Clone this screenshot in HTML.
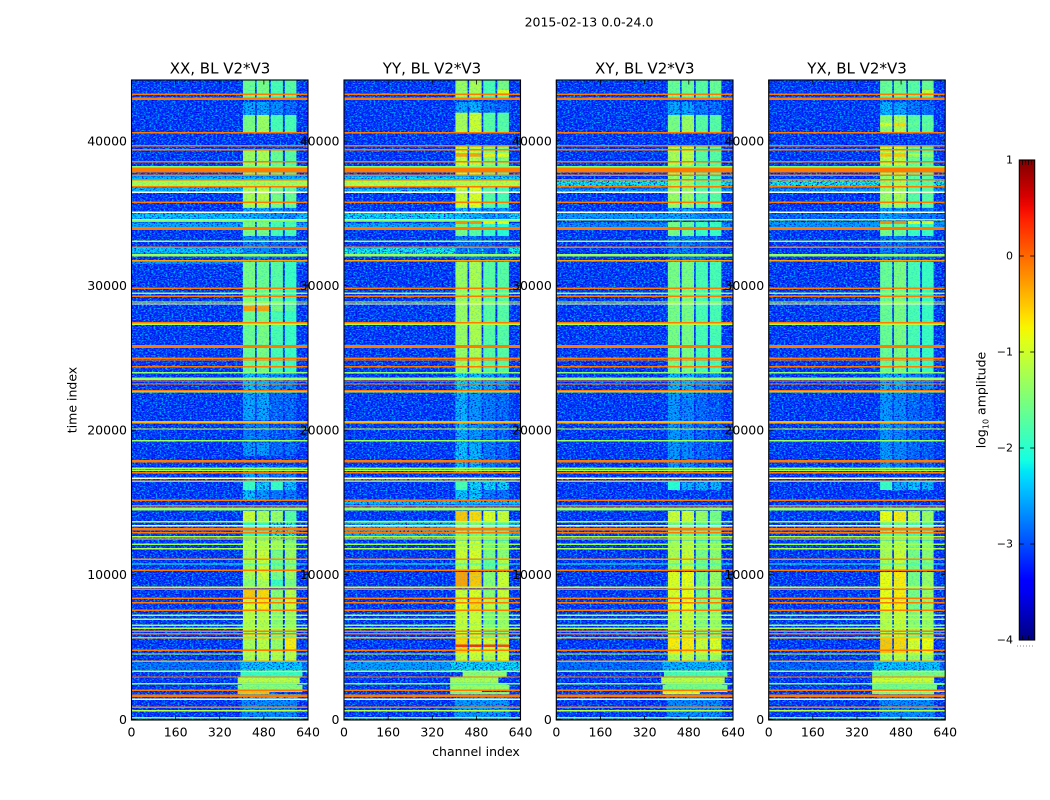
<!DOCTYPE html>
<html>
<head>
<meta charset="utf-8">
<title>2015-02-13 visibility waterfall</title>
<style>
html,body{margin:0;padding:0;background:#fff;}
svg{display:block;font-family:"DejaVu Sans","Liberation Sans",sans-serif;}
</style>
</head>
<body>
<svg id="figure" xmlns="http://www.w3.org/2000/svg" width="1050" height="800" viewBox="0 0 1050 800">
  <defs>
    <filter id="noiseLight" x="0" y="0" width="100%" height="100%" color-interpolation-filters="sRGB">
      <feTurbulence type="fractalNoise" baseFrequency="0.5 0.72" numOctaves="2" seed="4"/>
      <feColorMatrix type="matrix" values="0 0 0 0 0  0 0 0 0 0.68  0 0 0 0 1  4.4 0 0 0 -2.05"/>
    </filter>
    <filter id="noiseDark" x="0" y="0" width="100%" height="100%" color-interpolation-filters="sRGB">
      <feTurbulence type="fractalNoise" baseFrequency="0.52 0.74" numOctaves="2" seed="11"/>
      <feColorMatrix type="matrix" values="0 0 0 0 0  0 0 0 0 0  0 0 0 0 0.82  0 4 0 0 -2.0"/>
    </filter>
    <linearGradient id="jetGradient" x1="0" y1="1" x2="0" y2="0"></linearGradient>
  </defs>
  <rect x="0" y="0" width="1050" height="800" fill="#fff"/>
  <text x="589" y="26.5" font-size="12.5" text-anchor="middle" fill="#000">2015-02-13 0.0-24.0</text>

  <g id="panel-0"></g>
  <g id="panel-1"></g>
  <g id="panel-2"></g>
  <g id="panel-3"></g>

  <text x="220" y="73.5" font-size="15" text-anchor="middle" fill="#000">XX, BL V2*V3</text>
  <text x="432" y="73.5" font-size="15" text-anchor="middle" fill="#000">YY, BL V2*V3</text>
  <text x="644.8" y="73.5" font-size="15" text-anchor="middle" fill="#000">XY, BL V2*V3</text>
  <text x="857" y="73.5" font-size="15" text-anchor="middle" fill="#000">YX, BL V2*V3</text>

  <text x="476" y="756" font-size="12.5" text-anchor="middle" fill="#000">channel index</text>
  <text x="0" y="0" font-size="12.5" text-anchor="middle" fill="#000" transform="translate(76.5,400) rotate(-90)">time index</text>

  <g id="colorbar"></g>
  <text x="0" y="0" font-size="12.5" text-anchor="middle" fill="#000" transform="translate(985.5,400) rotate(-90)">log<tspan dy="3" font-size="8">10</tspan><tspan dy="-3"> amplitude</tspan></text>
</svg>

<script>
// ---------- chart data (time index, channel index, log10 amplitude) ----------
const channelTicks = [0, 160, 320, 480, 640];
const timeTicks = [0, 10000, 20000, 30000, 40000];
const colorTicks = [1, 0, -1, -2, -3, -4];
const backgroundLevel = -3.2;
const subbandEdges = [[404, 448], [454, 499], [505, 549], [556, 598]];

// narrow rows present in every polarisation: [time, duration, log amplitude]; null = blanked row
const rfiRows = [
 [43170,70,-.1],[42845,170,-.1],[40514,70,-.1],[39615,90,-.1],[39338,80,-.1],[38508,120,-.1],[38163,70,-1.5],
 [37934,330,-.1],[37568,90,-.1],[37263,70,-.1],[36780,100,-.1],[36392,70,null],[35700,80,-.1],[35009,70,null],
 [34497,110,-1.2],[33875,200,-.1],[33003,70,-1.2],[32588,60,-.1],[32035,190,-1.3],[31661,110,-.3],[29753,60,-.1],
 [29407,70,-1.3],[29199,70,-.1],[28805,60,-1.0],[28667,60,null],[27374,80,-.1],[27263,60,-1.2],[25783,60,-.1],
 [25672,60,-.1],[24911,80,-.1],[24794,70,-.1],[24330,110,-.1],[23916,90,-1.4],[23500,180,-1.35],[23342,70,-.1],
 [23134,80,-.1],[22671,70,-.1],[22581,60,-1.1],[20527,60,-.4],[20437,60,-.4],[20022,60,-1.0],[19213,120,-1.3],
 [17829,80,-.1],[17740,70,-.1],[17304,70,-1.3],[17166,70,-1.3],[17000,70,-.1],[16612,70,null],[16405,50,-.4],
 [15091,80,-.1],[14717,70,-.1],[14489,230,-1.35],[13611,70,-1.1],[13334,70,null],[13085,200,-.1],[12850,60,-.1],
 [12573,70,-1.2],[12414,60,-.6],[12048,70,-1.3],[11743,60,-1.2],[11010,60,-.2],[10685,60,-2.0],[10250,90,-.1],
 [9074,60,-1.1],[8935,70,-.1],[8313,70,-.1],[8009,130,-.1],[7483,70,-.1],[7137,60,-1.2],[6861,70,-1.1],
 [6446,60,-1.3],[6238,70,-1.2],[6031,90,-.1],[5865,90,-.1],[5588,90,-.5],[4717,70,-.1],[4461,70,-1.1],
 [3956,50,-.3],[3264,60,-1.2],[2870,90,-.1],[2407,120,-1.35],[1950,70,-.1],[1577,160,-.1],[1328,60,null],
 [775,70,-.1],[539,70,-1.1],[55,50,-1.3]
];

// full-width elevated bands: [start, end, log amplitude]
const bandsXX = [[37500,37300,-2.4],[37250,36780,-1.25],[36700,36400,-2.4],[34950,34550,-2.3],[34450,34340,-1.5],[34300,33980,-2.5],[32550,32150,-2.3],[31600,31440,-2.6],[3950,3250,-2.85]];
const bandsYY = [[37500,37300,-2.2],[37250,36780,-1.15],[36650,36400,-2.3],[34950,34550,-2.2],[34450,34350,-1.5],[34250,33950,-2.5],[32550,32100,-2.1],[16650,16400,-2.5],[15100,14800,-2.3],[13700,12400,-2.45],[3950,3250,-2.55]];
const bandsXY = [[37250,36780,-2.15],[36650,36400,-2.6],[34950,34550,-2.6],[34300,33980,-2.7],[3950,3250,-2.9]];
const bandsYX = [[37250,36780,-2.1],[36650,36400,-2.6],[34900,34550,-2.9],[34350,33950,-2.6],[3950,3250,-2.95]];

// subband blocks: [start, end, level subband 1, 2, 3, 4]
const blocksXX = [
 [44150,42910,-1.6,-1.5,-1.8,-1.7],[42640,41740,-2.5,-2.5,-2.7,-2.9],[41740,40520,-1.5,-1.3,-1.8,-1.8],
 [39390,38140,-1.3,-1.2,-1.6,-1.7],[38140,37520,-1.5,-1.5,-1.8,-1.9],[36760,35310,-1.2,-1.1,-1.5,-1.6],
 [35310,34480,-2.4,-2.5,-2.6,-2.7],[34340,33370,-1.5,-1.5,-1.8,-1.8],[33370,31570,-2.7,-2.7,-2.9,-2.9],
 [31570,28800,-1.5,-1.6,-1.7,-1.9],[28800,28530,-1.5,-1.5,-1.7,-1.9],[28530,28180,-.3,-.3,-1.5,-1.7],
 [28180,23960,-1.6,-1.5,-1.8,-1.9],[23960,22720,-2.3,-2.4,-2.6,-2.7],[22720,20640,-2.5,-2.5,-2.9,-2.9],
 [20640,19050,-2.8,-2.8,-3,-3],[19050,18150,-2.6,-2.6,-2.9,-2.9],[17530,16360,-2.5,-2.6,-2.8,-2.8],
 [16360,15800,-1.9,-2.2,-1.9,-2.3],[15800,15110,-2.3,-2.6,-2.8,-2.8],[14350,13590,-1.0,-1.2,-1.3,-1.7],
 [13590,12340,-2,-2,-2.1,-2.1],[12340,11650,-1.1,-1.1,-1.2,-1.4],[11650,9580,-1.2,-1.0,-1.5,-1.3],
 [9580,9030,-1.4,-1.2,-1.9,-1.5],[8890,8330,-.5,-.6,-1.4,-1.1],[8330,7500,-.9,-.7,-1.3,-1.0],
 [7500,5640,-1.1,-1.1,-1.4,-1.3],[5640,4800,-1.2,-1.1,-1.3,-.7],[4800,3980,-1.2,-1.1,-1.2,-1.1]
];
const blocksYY = [
 [44150,42910,-1.3,-1.2,-1.8,-1.5],[43450,43250,-1.3,-1.2,-1.8,-.8],[42640,41900,-2.5,-2.4,-2.8,-2.9],
 [41900,40520,-1.2,-1,-1.7,-1.7],[39590,38140,-1.0,-1.1,-1.4,-1.4],[39100,38850,-.3,-.3,-.7,-.8],
 [38140,37520,-1.2,-1.2,-1.6,-1.7],[36760,35310,-1,-.9,-1.7,-1.8],[35310,34480,-2.3,-2.4,-2.6,-2.6],
 [34340,33370,-1.5,-1.7,-1.9,-2],[34400,34200,-.2,-.2,-.7,-.8],[33370,31570,-2.8,-2.8,-2.9,-3],
 [31570,23960,-1.3,-1.2,-1.7,-1.7],[23960,22720,-2.2,-2.3,-2.5,-2.6],[22720,19050,-2.4,-2.6,-2.8,-2.9],
 [19050,17000,-2.3,-2.4,-2.8,-2.9],[16360,15800,-1.8,-2.2,-2.2,-2.2],[15800,15110,-2.3,-2.3,-2.8,-2.8],
 [14350,13620,-.5,-.6,-.9,-1.0],[13620,12300,-1.5,-1.5,-1.7,-1.8],[12300,11100,-1,-.9,-1.5,-1.4],
 [11100,10270,-1.1,-1.1,-1.6,-1.1],[10130,9030,-.3,-.5,-1.4,-1],[8890,8330,-1,-.9,-1.4,-1],
 [8330,7500,-.9,-.6,-1.1,-1.2],[7500,5640,-1,-1,-1.5,-1.3],[5570,4530,-.6,-.9,-1,-1],
 [5120,4950,.3,.35,.25,.2],[4530,3980,-1.1,-1,-1.2,-.9]
];
const blocksXY = [
 [44150,42910,-1.6,-1.6,-1.7,-1.6],[42640,41740,-2.5,-2.5,-2.8,-2.9],[41740,40520,-1.5,-1.3,-1.7,-1.7],
 [39590,38140,-1.2,-1.1,-1.7,-1.7],[38140,35310,-1.3,-1.3,-1.7,-1.7],[35310,34480,-2.5,-2.5,-2.7,-2.8],
 [34340,33370,-1.5,-1.6,-1.9,-1.9],[33370,31570,-2.8,-2.8,-2.9,-3],[31570,23960,-1.5,-1.5,-1.8,-1.8],
 [23960,22720,-2.4,-2.4,-2.7,-2.7],[22720,19050,-2.6,-2.7,-2.9,-3],[19050,17000,-2.6,-2.7,-2.9,-3],
 [16360,15800,-2,-2.4,-2.4,-2.4],[14350,13620,-1,-1,-1.3,-1.5],[13620,12300,-1.6,-1.6,-1.8,-1.8],
 [12300,10270,-1.2,-1,-1.5,-1.4],[10130,7500,-.9,-.8,-1.5,-1.3],[7500,5640,-1.1,-1,-1.4,-1.3],
 [5570,4530,-.7,-.7,-1,-.9],[4530,3980,-1.2,-1.1,-1.3,-1.3]
];
const blocksYX = [
 [44150,42910,-1.6,-1.6,-1.7,-1.6],[43450,43250,-1.6,-1.6,-1.7,-1.0],[42640,41740,-2.4,-2.5,-2.8,-2.9],
 [41740,40520,-1.4,-1.2,-1.7,-1.7],[41200,40950,-.9,-.6,-1.6,-1.6],[39590,38140,-1.1,-1.1,-1.6,-1.7],
 [39100,38850,-.5,-.5,-1.2,-1.3],[38140,35310,-1.3,-1.2,-1.7,-1.7],[35310,34480,-2.5,-2.6,-2.8,-2.8],
 [34340,33370,-1.5,-1.6,-1.9,-1.9],[34400,34200,-.2,-.2,-.8,-.9],[33370,31570,-2.8,-2.8,-2.9,-3],
 [31570,23960,-1.6,-1.5,-1.8,-1.9],[23960,22720,-2.4,-2.4,-2.7,-2.7],[22720,19050,-2.6,-2.7,-2.9,-3],
 [19050,17000,-2.6,-2.7,-2.9,-3],[16360,15800,-1.9,-2.4,-2.3,-2.4],[14350,13620,-.8,-.7,-1.1,-1.3],
 [13620,12300,-1.6,-1.6,-1.8,-1.8],[12300,10270,-1.2,-1,-1.5,-1.4],[10130,7500,-.8,-.7,-1.5,-1.3],
 [7500,5640,-1.1,-1.0,-1.4,-1.3],[5570,4530,-.5,-.6,-.9,-.8],[4530,3980,-1.2,-1.1,-1.3,-1.3]
];

// wide low-time rows: [start, end, first channel, last channel, log amplitude]
const lowXX = [[3980,3220,395,620,-2.3],[3220,2870,395,620,-1.9],[2870,2460,385,610,-1.1],[2460,2320,400,600,-1.7],[2320,1970,385,620,-1.4],[1970,1830,385,620,-1.9],[1830,1690,385,500,-.5],[1690,1400,385,610,-2.3],[1400,80,400,600,-2.7]];
const lowYY = [[3980,3220,385,640,-2.2],[3220,2870,430,590,-1.4],[2870,2460,385,560,-1.2],[2460,2320,385,590,-1.8],[2320,1970,385,600,-1.3],[1970,1830,385,500,-.6],[1830,1690,385,600,-1.4],[1690,100,400,600,-2.6]];
const lowXY = [[3980,3220,385,620,-2.4],[3220,2870,390,620,-1.8],[2870,2460,380,610,-1.1],[2460,2320,395,600,-1.7],[2320,1970,385,620,-1.5],[1970,1830,385,620,-1.2],[1830,1690,385,520,-.8],[1690,100,400,600,-2.7]];
const lowYX = [[3980,3220,380,620,-2.3],[3220,2870,375,640,-1.5],[2870,2460,375,600,-1.0],[2460,2320,375,640,-1.7],[2320,1970,375,610,-1.5],[1970,1830,375,640,-.9],[1830,1690,375,600,-1.3],[1690,100,400,600,-2.7]];

const panelBands = [bandsXX, bandsYY, bandsXY, bandsYX];
const panelBlocks = [blocksXX, blocksYY, blocksXY, blocksYX];
const panelLow = [lowXX, lowYY, lowXY, lowYX];

// ---------- layout and axis functions ----------
const SVGNS = 'http://www.w3.org/2000/svg';
const panelLeft = [131.5, 344, 556.3, 768.7];
const panelRight = [308, 520.5, 733, 945.2];
const AXIS_TOP = 80;
const AXIS_BOTTOM = 720;
const TIME_ZERO_Y = 719.3;
const TIME_SCALE = 0.01446;
const IMAGE_ORIGIN = 55;
const CHANNEL_MAX = 640;
const FAINT_LEVEL = -2.0;
const MIN_ROW_SPAN = 100;

function xScale(panel, channel) {
  return panelLeft[panel] + channel / CHANNEL_MAX * (panelRight[panel] - panelLeft[panel]);
}
function tickY(time) {
  return TIME_ZERO_Y - time * TIME_SCALE;
}
function markY(time) {
  return TIME_ZERO_Y - (time + IMAGE_ORIGIN) * TIME_SCALE;
}
const CB_TOP = 160, CB_BOTTOM = 640, CB_LEFT = 1019.3, CB_RIGHT = 1034.7;
function colorY(level) {
  return CB_TOP + (1 - level) / 5 * (CB_BOTTOM - CB_TOP);
}
function ramp(f, pts) {
  if (f <= pts[0][0]) return pts[0][1];
  for (let i = 1; i < pts.length; i++) {
    if (f <= pts[i][0]) {
      const a = pts[i - 1], b = pts[i];
      return a[1] + (b[1] - a[1]) * (f - a[0]) / (b[0] - a[0]);
    }
  }
  return pts[pts.length - 1][1];
}
function jet(f) {
  const r = ramp(f, [[0, 0], [.35, 0], [.66, 1], [.89, 1], [1, .5]]);
  const g = ramp(f, [[0, 0], [.125, 0], [.375, 1], [.64, 1], [.91, 0], [1, 0]]);
  const b = ramp(f, [[0, .5], [.11, 1], [.34, 1], [.65, 0], [1, 0]]);
  return 'rgb(' + Math.round(r * 255) + ',' + Math.round(g * 255) + ',' + Math.round(b * 255) + ')';
}
function levelColor(level) {
  if (level === null) return '#f2ffd8';
  return jet(Math.max(0, Math.min(1, (level + 4) / 5)));
}
function svgEl(tag, attrs, parent) {
  const el = document.createElementNS(SVGNS, tag);
  for (const k in attrs) el.setAttribute(k, attrs[k]);
  parent.appendChild(el);
  return el;
}
function rowRect(parent, panel, start, end, chA, chB, level) {
  const y0 = markY(start), y1 = markY(end);
  return svgEl('rect', {
    x: xScale(panel, chA), y: Math.min(y0, y1),
    width: xScale(panel, chB) - xScale(panel, chA), height: Math.abs(y1 - y0),
    fill: levelColor(level)
  }, parent);
}
// Draw a panel's elevated regions; faint ones go beneath the speckle, bright ones above.
function drawRegions(image, p, faint) {
  const keep = function (level) { return (level < FAINT_LEVEL) === faint; };
  panelBands[p].forEach(function (band) {
    if (!keep(band[2])) return;
    const el = rowRect(image, p, band[0], band[1], 0, CHANNEL_MAX, band[2]);
    
    
  });
  panelBlocks[p].forEach(function (row) {
    subbandEdges.forEach(function (edge, s) {
      if (!keep(row[2 + s])) return;
      const el = rowRect(image, p, row[0], row[1], edge[0], edge[1], row[2 + s]);
      
      
    });
  });
  panelLow[p].forEach(function (row) {
    if (!keep(row[4])) return;
    const el = rowRect(image, p, row[0], row[1], row[2], row[3], row[4]);
    
    
  });
}

// ---------- panels ----------
panelBlocks.forEach(function (blocks, p) {
  const group = document.getElementById('panel-' + p);
  const left = panelLeft[p], right = panelRight[p], w = right - left, h = AXIS_BOTTOM - AXIS_TOP;

  const clip = svgEl('clipPath', { id: 'clip-' + p }, group);
  svgEl('rect', { x: left, y: AXIS_TOP, width: w, height: h }, clip);

  const image = svgEl('g', { 'clip-path': 'url(#clip-' + p + ')' }, group);
  
  

  const bg = svgEl('rect', { x: left, y: AXIS_TOP, width: w, height: h, fill: levelColor(backgroundLevel) }, image);
  
  

  drawRegions(image, p, true);

  const nl = svgEl('rect', { x: left, y: AXIS_TOP, width: w, height: h, filter: 'url(#noiseLight)' }, image);
  
  
  const nd = svgEl('rect', { x: left, y: AXIS_TOP, width: w, height: h, filter: 'url(#noiseDark)' }, image);
  
  

  drawRegions(image, p, false);

  const ov = svgEl('rect', { x: left, y: AXIS_TOP, width: w, height: h, filter: 'url(#noiseLight)', opacity: .25 }, image);
  
  

  rfiRows.forEach(function (row) {
    const span = Math.max(row[1], MIN_ROW_SPAN);
    const el = rowRect(image, p, row[0] + span / 2, row[0] - span / 2, 0, CHANNEL_MAX, row[2]);
    el.setAttribute('shape-rendering', 'crispEdges');
    
    
  });

  const frame = svgEl('rect', { x: left, y: AXIS_TOP, width: w, height: h, fill: 'none', stroke: '#000', 'stroke-width': 1.1 }, group);
  
  

  channelTicks.forEach(function (c) {
    const x = xScale(p, c);
    svgEl('line', { x1: x, x2: x, y1: AXIS_BOTTOM, y2: AXIS_BOTTOM - 4.5, stroke: '#000', 'stroke-width': .8 }, group);
    svgEl('line', { x1: x, x2: x, y1: AXIS_TOP, y2: AXIS_TOP + 4.5, stroke: '#000', 'stroke-width': .8 }, group);
    const label = svgEl('text', { x: x, y: 736.5, 'font-size': 12.5, 'text-anchor': 'middle', fill: '#000' }, group);
    label.textContent = String(c);
    
    
  });

  timeTicks.forEach(function (t) {
    const y = tickY(t);
    svgEl('line', { x1: left, x2: left + 4.5, y1: y, y2: y, stroke: '#000', 'stroke-width': .8 }, group);
    svgEl('line', { x1: right, x2: right - 4.5, y1: y, y2: y, stroke: '#000', 'stroke-width': .8 }, group);
    const label = svgEl('text', { x: left - 4.5, y: y + 4.5, 'font-size': 12.5, 'text-anchor': 'end', fill: '#000' }, group);
    label.textContent = String(t);
    
    
  });
});

// ---------- colorbar ----------
const gradient = document.getElementById('jetGradient');
for (let i = 0; i <= 40; i++) {
  svgEl('stop', { offset: (i / 40 * 100) + '%', 'stop-color': jet(i / 40) }, gradient);
}
const cbGroup = document.getElementById('colorbar');
const cbBar = svgEl('rect', { x: CB_LEFT, y: CB_TOP, width: CB_RIGHT - CB_LEFT, height: CB_BOTTOM - CB_TOP, fill: 'url(#jetGradient)', stroke: '#000', 'stroke-width': 1.1 }, cbGroup);


colorTicks.forEach(function (v) {
  const y = colorY(v);
  svgEl('line', { x1: CB_LEFT, x2: CB_LEFT + 4.5, y1: y, y2: y, stroke: '#000', 'stroke-width': .8 }, cbGroup);
  svgEl('line', { x1: CB_RIGHT, x2: CB_RIGHT - 4.5, y1: y, y2: y, stroke: '#000', 'stroke-width': .8 }, cbGroup);
  const label = svgEl('text', { x: 1013, y: y + 3.5, 'font-size': 11, 'text-anchor': 'end', fill: '#000' }, cbGroup);
  label.textContent = v < 0 ? '\u2212' + Math.abs(v) : String(v);
  
  
});
[0.2, 0.4, 0.6, 0.8].forEach(function (f) {
  const x = CB_LEFT + f * (CB_RIGHT - CB_LEFT);
  svgEl('line', { x1: x, x2: x, y1: CB_TOP, y2: CB_TOP + 5, stroke: '#000', 'stroke-width': .7 }, cbGroup);
  svgEl('line', { x1: x, x2: x, y1: CB_BOTTOM, y2: CB_BOTTOM - 5, stroke: '#000', 'stroke-width': .7 }, cbGroup);
});
const dots = svgEl('line', { x1: 1017, x2: 1035, y1: 646, y2: 646, stroke: '#888', 'stroke-width': 1, 'stroke-dasharray': '1 2' }, cbGroup);


</script>
</body>
</html>
